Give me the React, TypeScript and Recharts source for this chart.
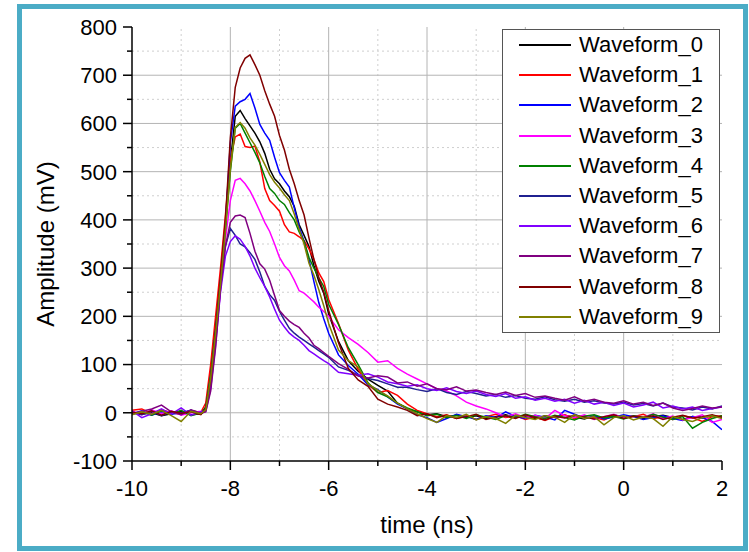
import React from 'react';
import { LineChart, Line, XAxis, YAxis, ReferenceLine, Legend, Label } from 'recharts';

const FONT = '"Liberation Sans", Arial, sans-serif';

// time axis (ns)
const time = [
  -10, -9.8, -9.6, -9.4, -9.2, -9.0, -8.8, -8.6,
  -8.5, -8.4, -8.3, -8.2, -8.1, -8.0, -7.9, -7.8, -7.7, -7.6, -7.5, -7.4, -7.3, -7.2, -7.1, -7.0,
  -6.9, -6.8, -6.7, -6.6, -6.5, -6.4, -6.3, -6.2, -6.1, -6.0,
  -5.8, -5.6, -5.4, -5.2, -5.0, -4.8, -4.6, -4.4, -4.2, -4.0, -3.8, -3.6, -3.4, -3.2, -3.0,
  -2.8, -2.6, -2.4, -2.2, -2.0, -1.8, -1.6, -1.4, -1.2, -1.0, -0.8, -0.6, -0.4, -0.2, 0,
  0.2, 0.4, 0.6, 0.8, 1.0, 1.2, 1.4, 1.6, 1.8, 2.0,
];

const waveform0 = [
  2, -3, 0, -6, -2, 3, -4, -2,
  12, 80, 175, 275, 385, 520, 615, 627, 610, 595, 580, 562, 538, 505, 485, 475, 460, 448, 428, 390, 368, 345, 305, 272, 248, 205,
  148, 108, 86, 70, 57, 45, 20, 8, 2, -4, -2, -8, -5, -10, -6, -12, -8, -4, -10, -7,
  -12, -6, -10, -5, -9, -13, -7, -11, -4, -9, -6, -12, -8, -5, -10, -14, -8, -11, -6, -9,
];
const waveform1 = [
  5, 8, -2, 6, 0, -3, 4, 1,
  20, 100, 200, 300, 410, 525, 572, 578, 552, 550, 553, 520, 465, 440, 430, 418, 390, 375, 372, 365, 357, 340, 318, 290, 272, 235,
  185, 130, 90, 58, 42, 46, 36, 18, 5, -2, -8, -4, -12, -6, -14, -8, -3, -10, -6, -14,
  -9, -16, -8, -4, -12, -7, -10, -15, -6, -11, -8, -3, -12, -9, -14, -6, -10, -18, -8, -6,
];
const waveform2 = [
  -2, 4, -5, 2, -3, 0, 5, -1,
  8, 75, 170, 272, 390, 560, 636, 645, 650, 662, 632, 598, 580, 565, 530, 498, 482, 468, 425, 385, 355, 318, 272, 228, 195, 165,
  120, 98, 80, 58, 48, 33, 18, 8, -4, -10, -20, -12, -3, -8, -14, -6, -10, 2, -8, -12,
  -5, -9, -15, 5, -3, -11, -6, -13, -9, -4, -8, -14, -10, -6, -12, -16, -8, -10, -18, -35,
];
const waveform3 = [
  3, -4, 6, -2, 4, -5, 0, 3,
  5, 65, 150, 255, 360, 440, 482, 486, 475, 460, 440, 418, 395, 376, 350, 322, 305, 294, 275, 253, 248, 239, 230, 219, 210, 200,
  172, 156, 142, 125, 105, 108, 92, 80, 70, 60, 50, 45, 35, 22, 14, 8, 0, -8, -2, -10,
  -5, -12, 5, -6, -10, -4, -14, -8, -3, -11, -6, -9, -2, -12, -7, -15, -10, -4, -20, -14,
];
const waveform4 = [
  -3, 2, -5, 4, -2, 5, -6, 0,
  10, 78, 172, 270, 380, 500, 590, 600, 580, 560, 540, 518, 490, 465, 455, 440, 432, 415, 400, 375, 355, 322, 300, 280, 262, 225,
  183, 135, 100, 62, 42, 33, 20, 10, 2, -6, -3, -10, -5, -12, -4, -9, -14, -6, -10, -3,
  -8, -12, -5, -10, -15, -7, -4, -11, -8, -13, -6, -10, -3, -9, -14, -8, -32, -20, -12, -6,
];
const waveform5 = [
  0, -4, 3, -6, 2, -2, 5, -3,
  5, 60, 150, 262, 345, 382, 368, 350, 344, 332, 318, 292, 262, 245, 233, 210, 192, 175, 165, 157, 150, 143, 136, 129, 122, 115,
  95, 88, 78, 71, 67, 60, 53, 53, 48, 44, 50, 42, 38, 44, 40, 35, 38, 32, 36, 30,
  28, 33, 27, 24, 28, 22, 25, 20, 18, 22, 16, 19, 14, 20, 12, 10, 6, 12, 8, 14,
];
const waveform6 = [
  4, -10, -2, 8, -3, 10, -5, 2,
  3, 50, 140, 250, 325, 355, 367, 360, 345, 325, 300, 280, 262, 240, 215, 192, 178, 165, 157, 150, 140, 129, 122, 115, 108, 102,
  84, 81, 78, 81, 74, 64, 60, 55, 58, 50, 46, 52, 44, 40, 45, 38, 34, 40, 30, 33,
  26, 30, 24, 28, 20, 26, 18, 22, 15, 20, 12, 16, 22, 10, 14, 8, 12, 5, 9, 12,
];
const waveform7 = [
  -2, 3, 8, 16, 2, -4, 6, -1,
  2, 45, 135, 258, 345, 395, 408, 410, 405, 372, 335, 309, 298, 275, 243, 212, 200, 190, 183, 177, 165, 155, 140, 133, 125, 117,
  102, 90, 76, 72, 77, 74, 62, 64, 55, 60, 50, 48, 54, 45, 47, 42, 38, 43, 36, 40,
  32, 35, 30, 26, 33, 24, 28, 22, 20, 25, 18, 22, 15, 20, 10, 5, 9, 14, 10, 12,
];
const waveform8 = [
  1, -2, 4, -5, 3, -1, 2, -4,
  8, 70, 170, 280, 400, 570, 675, 715, 735, 742, 722, 700, 668, 640, 615, 575, 545, 505, 475, 440, 410, 362, 318, 280, 250, 212,
  145, 92, 68, 55, 28, 18, 12, 5, -6, -2, -10, -5, -12, -8, -3, -14, -9, -6, -12, -4,
  -10, -15, -7, -11, -5, -9, -13, -8, -4, -12, -7, -10, -6, -14, -9, -5, -11, -8, -4, -10,
];
const waveform9 = [
  -4, 2, -3, 5, -6, -18, 3, -2,
  6, 72, 165, 268, 378, 505, 592, 602, 590, 570, 555, 536, 515, 494, 478, 466, 452, 440, 412, 380, 350, 310, 285, 255, 222, 185,
  130, 108, 95, 60, 47, 35, 20, 8, -2, -12, -20, -6, -10, -3, -15, -8, -12, -22, -5, -10,
  -14, -6, -9, -20, -4, -12, -8, -25, -10, -6, -15, -9, -12, -28, -8, -14, -18, -10, -6, -12,
];

const seriesNames = [
  'Waveform_0', 'Waveform_1', 'Waveform_2', 'Waveform_3', 'Waveform_4',
  'Waveform_5', 'Waveform_6', 'Waveform_7', 'Waveform_8', 'Waveform_9',
];
const seriesColors = [
  '#000000', '#ff0000', '#0000ff', '#ff00ff', '#008000',
  '#202090', '#8000ff', '#800080', '#800000', '#808000',
];
const seriesValues = [
  waveform0, waveform1, waveform2, waveform3, waveform4,
  waveform5, waveform6, waveform7, waveform8, waveform9,
];

const xMajorTicks = [-10, -8, -6, -4, -2, 0, 2];
const xMinorTicks = [-9, -7, -5, -3, -1, 1];
const yMajorTicks = [-100, 0, 100, 200, 300, 400, 500, 600, 700, 800];
const yMinorTicks = [-50, 50, 150, 250, 350, 450, 550, 650, 750];

const xAllTicks = [...xMajorTicks, ...xMinorTicks].sort((a, b) => a - b);
const yAllTicks = [...yMajorTicks, ...yMinorTicks].sort((a, b) => a - b);

const data = time.map((t, i) => {
  const row: Record<string, number> = { t };
  seriesValues.forEach((arr, k) => {
    row['w' + k] = arr[i];
  });
  return row;
});

const TICK_FONT = 22;

const BottomTick = (props: any) => {
  const { x, y, payload } = props;
  const major = xMajorTicks.includes(payload.value);
  return (
    <g>
      <line x1={x} x2={x} y1={y} y2={y + (major ? 9 : 5)} stroke="#000" strokeWidth={1.5} />
      {major && (
        <text x={x} y={y + 35} textAnchor="middle" fontSize={TICK_FONT} fontFamily={FONT} fill="#000">
          {payload.value}
        </text>
      )}
    </g>
  );
};

const TopTick = (props: any) => {
  const { x, y, payload } = props;
  const major = xMajorTicks.includes(payload.value);
  return <line x1={x} x2={x} y1={y} y2={y + (major ? 8 : 4)} stroke="#000" strokeWidth={1.5} />;
};

const LeftTick = (props: any) => {
  const { x, y, payload } = props;
  const major = yMajorTicks.includes(payload.value);
  return (
    <g>
      <line x1={x} x2={x - (major ? 9 : 5)} y1={y} y2={y} stroke="#000" strokeWidth={1.5} />
      {major && (
        <text x={x - 15} y={y} dy="0.36em" textAnchor="end" fontSize={TICK_FONT} fontFamily={FONT} fill="#000">
          {payload.value}
        </text>
      )}
    </g>
  );
};

const RightTick = (props: any) => {
  const { x, y, payload } = props;
  const major = yMajorTicks.includes(payload.value);
  return <line x1={x} x2={x + (major ? 5 : 3)} y1={y} y2={y} stroke="#000" strokeWidth={1.5} />;
};

const ROW_H = 30.2;

const renderLegend = (props: any) => {
  const payload = props.payload || [];
  return (
    <div
      style={{
        width: 218,
        height: 304,
        boxSizing: 'border-box',
        border: '1px solid #555',
        background: '#fff',
        padding: 0,
        fontFamily: FONT,
      }}
    >
      {payload.map((entry: any) => (
        <div key={entry.value} style={{ height: ROW_H, display: 'flex', alignItems: 'center' }}>
          <svg width={76} height={ROW_H} style={{ flex: '0 0 auto' }}>
            <line x1={16} x2={68} y1={ROW_H / 2} y2={ROW_H / 2} stroke={entry.color} strokeWidth={2} />
          </svg>
          <span style={{ fontSize: 22, color: '#000', lineHeight: ROW_H + 'px', whiteSpace: 'nowrap' }}>{entry.value}</span>
        </div>
      ))}
    </div>
  );
};

export default function App() {
  return (
    <div style={{ position: 'absolute', left: 0, top: 0, width: 749, height: 552, background: '#fff' }}>
      <div
        style={{
          position: 'absolute',
          left: 17,
          top: 4,
          width: 731,
          height: 547,
          border: '5px solid #4bacc6',
          boxSizing: 'border-box',
        }}
      />
      <div style={{ position: 'absolute', left: 0, top: 0 }}>
        <LineChart width={749} height={552} data={data} margin={{ top: 27, right: 27, bottom: 11, left: 32 }}>
          <XAxis
            xAxisId="b"
            dataKey="t"
            type="number"
            domain={[-10, 2]}
            ticks={xAllTicks}
            interval={0}
            allowDataOverflow
            height={80}
            tickSize={0}
            tickMargin={0}
            tickLine={false}
            axisLine={{ stroke: '#000', strokeWidth: 1.5 }}
            tick={BottomTick}
          >
            <Label value="time (ns)" position="center" dy={23} fontSize={24} fontFamily={FONT} fill="#000" />
          </XAxis>
          <XAxis
            xAxisId="t"
            orientation="top"
            dataKey="t"
            type="number"
            domain={[-10, 2]}
            ticks={xAllTicks}
            interval={0}
            allowDataOverflow
            height={0}
            tickSize={0}
            tickMargin={0}
            tickLine={false}
            axisLine={{ stroke: '#000', strokeWidth: 1.5 }}
            tick={TopTick}
          />
          <YAxis
            yAxisId="l"
            type="number"
            domain={[-100, 800]}
            ticks={yAllTicks}
            interval={0}
            allowDataOverflow
            width={100}
            tickSize={0}
            tickMargin={0}
            tickLine={false}
            axisLine={{ stroke: '#000', strokeWidth: 1.5 }}
            tick={LeftTick}
          >
            <Label value="Amplitude (mV)" position="center" angle={-90} dx={-37} fontSize={24} fontFamily={FONT} fill="#000" />
          </YAxis>
          <YAxis
            yAxisId="r"
            orientation="right"
            type="number"
            domain={[-100, 800]}
            ticks={yAllTicks}
            interval={0}
            allowDataOverflow
            width={0}
            tickSize={0}
            tickMargin={0}
            tickLine={false}
            axisLine={{ stroke: '#000', strokeWidth: 1.5 }}
            tick={RightTick}
          />
          {xMinorTicks.map((v) => (
            <ReferenceLine key={'xm' + v} x={v} xAxisId="b" yAxisId="l" stroke="#cfcfcf" strokeDasharray="2 3" />
          ))}
          {yMinorTicks.map((v) => (
            <ReferenceLine key={'ym' + v} y={v} xAxisId="b" yAxisId="l" stroke="#cfcfcf" strokeDasharray="2 3" />
          ))}
          {xMajorTicks.filter((v) => v > -10 && v < 2).map((v) => (
            <ReferenceLine key={'xM' + v} x={v} xAxisId="b" yAxisId="l" stroke="#b4b4b4" />
          ))}
          {yMajorTicks.filter((v) => v > -100 && v < 800).map((v) => (
            <ReferenceLine key={'yM' + v} y={v} xAxisId="b" yAxisId="l" stroke="#b4b4b4" />
          ))}
          {seriesNames.map((name, k) => (
            <Line
              key={name}
              xAxisId="b"
              yAxisId="l"
              type="linear"
              dataKey={'w' + k}
              name={name}
              stroke={seriesColors[k]}
              strokeWidth={1.5}
              dot={false}
              activeDot={false}
              isAnimationActive={false}
            />
          ))}
          <Legend
            layout="vertical"
            align="center"
            verticalAlign="middle"
            content={renderLegend}
            wrapperStyle={{ position: 'absolute', left: 502, top: 29, width: 218, height: 304 }}
          />
        </LineChart>
      </div>
    </div>
  );
}
